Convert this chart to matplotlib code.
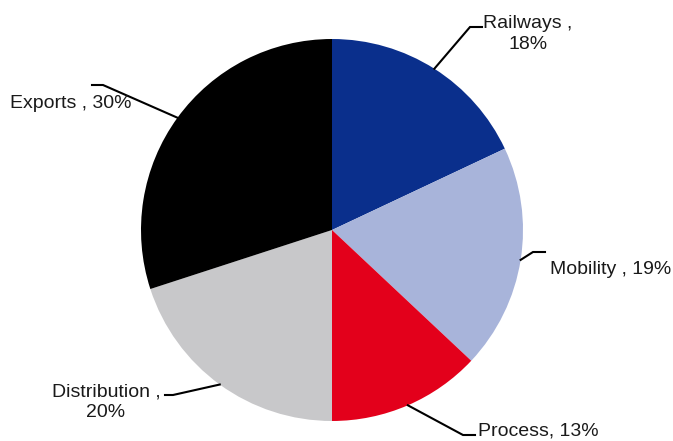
import numpy as np
import matplotlib
matplotlib.use('Agg')
import matplotlib.pyplot as plt

plt.rcParams['font.family'] = ['Liberation Sans', 'DejaVu Sans']

# data
segments = ['Railways', 'Mobility', 'Process', 'Distribution', 'Exports']
shares = [18, 19, 13, 20, 30]
labels = ['Railways ,\n18%', 'Mobility , 19%', 'Process, 13%',
          'Distribution ,\n20%', 'Exports , 30%']
colors = ['#0a2f8c', '#a8b4da', '#e3001b', '#c8c8ca', '#000000']

# layout in pixels (figure 673x441, pie centre at 332,230, radius 191)
W, H = 673, 441
cx, cy, R = 332, 230, 191


def px(x, y):
    return (x - cx) / R, (cy - y) / R


# leader line: (anchor angle or None -> mid angle), elbow, end, text pos, align
leaders = [
    (None, (470, 27), (482, 27), (528, 34), 'center'),
    (None, (533, 252), (545, 252), (550, 270), 'left'),
    (None, (463, 435), (475, 435), (478, 431), 'left'),
    (None, (173, 395), (165, 395), (106, 402), 'center'),
    (144, (103, 85), (92, 85), (10, 103), 'left'),
]

fig = plt.figure(figsize=(W / 100, H / 100), dpi=100)
ax = fig.add_axes([0, 0, 1, 1])

wedges, _ = ax.pie(shares, colors=colors, startangle=90, counterclock=False,
                   radius=1, center=(0, 0))

for w, lab, (ang, elbow, end, tpos, ha) in zip(wedges, labels, leaders):
    if ang is None:
        ang = (w.theta1 + w.theta2) / 2
    a = np.deg2rad(ang)
    x0, y0 = np.cos(a), np.sin(a)
    ex, ey = px(*elbow)
    fx, fy = px(*end)
    ax.plot([x0, ex, fx], [y0, ey, fy], color='black', lw=1.5,
            solid_joinstyle='miter')
    tx, ty = px(*tpos)
    ax.text(tx, ty, lab, ha=ha, va='center', fontsize=14,
            color='#1a1a1a', multialignment='center', linespacing=1.25)

ax.set_xlim(-cx / R, (W - cx) / R)
ax.set_ylim(-(H - cy) / R, cy / R)
ax.set_aspect('equal')
ax.axis('off')

plt.savefig('out.png', dpi=100)
plt.close()
